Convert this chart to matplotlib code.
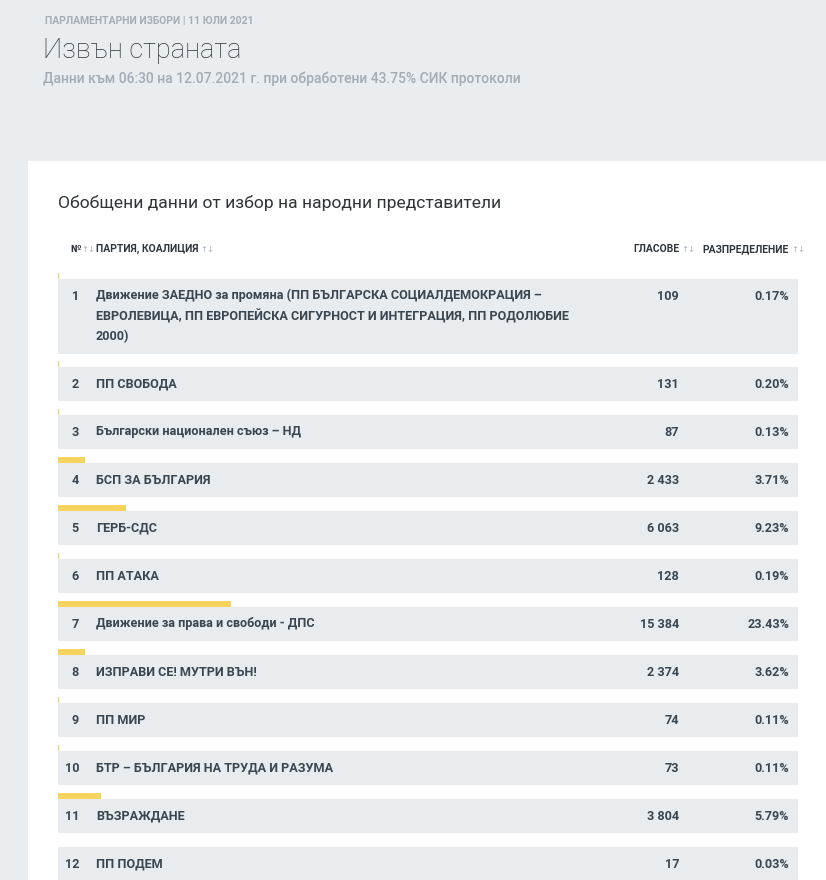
import matplotlib
matplotlib.use("Agg")
import matplotlib.pyplot as plt
from matplotlib.patches import Rectangle

plt.rcParams['font.family'] = ['Roboto', 'DejaVu Sans']

# data
nums = list(range(1, 13))
parties = [
    "Движение ЗАЕДНО за промяна (ПП БЪЛГАРСКА СОЦИАЛДЕМОКРАЦИЯ –\n"
    "ЕВРОЛЕВИЦА, ПП ЕВРОПЕЙСКА СИГУРНОСТ И ИНТЕГРАЦИЯ, ПП РОДОЛЮБИЕ\n2000)",
    "ПП СВОБОДА",
    "Български национален съюз – НД",
    "БСП ЗА БЪЛГАРИЯ",
    "ГЕРБ-СДС",
    "ПП АТАКА",
    "Движение за права и свободи - ДПС",
    "ИЗПРАВИ СЕ! МУТРИ ВЪН!",
    "ПП МИР",
    "БТР – БЪЛГАРИЯ НА ТРУДА И РАЗУМА",
    "ВЪЗРАЖДАНЕ",
    "ПП ПОДЕМ",
]
votes = [109, 131, 87, 2433, 6063, 128, 15384, 2374, 74, 73, 3804, 17]
pcts = [0.17, 0.20, 0.13, 3.71, 9.23, 0.19, 23.43, 3.62, 0.11, 0.11, 5.79, 0.03]

col_headers = ["№", "ПАРТИЯ, КОАЛИЦИЯ", "ГЛАСОВЕ", "РАЗПРЕДЕЛЕНИЕ"]
top_label = "ПАРЛАМЕНТАРНИ ИЗБОРИ | 11 ЮЛИ 2021"
title = "Извън страната"
subtitle = "Данни към 06:30 на 12.07.2021 г. при обработени 43.75% СИК протоколи"
card_title = "Обобщени данни от избор на народни представители"

W, H = 826, 880
BG = "#e9edf0"
ROW_BG = "#e9ecef"
YELLOW = "#f6d35e"
DARK = "#3a4650"
ARROW = "#aab2ba"

fig = plt.figure(figsize=(W / 100, H / 100), dpi=100)
fig.patch.set_facecolor(BG)
ax = fig.add_axes([0, 0, 1, 1])
ax.set_xlim(0, W)
ax.set_ylim(H, 0)
ax.axis("off")

# page header
ax.text(45, 21, top_label, fontsize=7.5, fontweight="bold", color="#a4acb4", va="center")
ax.text(43, 50, title, fontsize=19.5, fontweight="light", color="#2e3439", va="center")
ax.text(43, 79, subtitle, fontsize=10, fontweight="medium", color="#a3abb3", va="center")

# white card
ax.add_patch(Rectangle((28, 161), W - 28, H - 161, facecolor="white", edgecolor="none"))
ax.text(58, 203, card_title, fontsize=12.6, color="#2e3439", va="center")

# column headers
hy = 249
hkw = dict(fontsize=7.5, fontweight="bold", color="#30363c", va="center")
akw = dict(fontsize=6, color=ARROW, va="center", family=['DejaVu Sans'])
ax.text(70, hy, col_headers[0], **hkw)
ax.text(81, hy, "↑↓", **akw)
ax.text(96, hy, col_headers[1], **hkw)
ax.text(200, hy, "↑↓", **akw)
ax.text(679, hy, col_headers[2], ha="right", **hkw)
ax.text(681, hy, "↑↓", **akw)
ax.text(789, hy, col_headers[3], ha="right", **hkw)
ax.text(791, hy, "↑↓", **akw)

# row geometry
x0, x1 = 58, 798
row_w = x1 - x0
tops, heights = [], []
for i in range(len(nums)):
    if i == 0:
        tops.append(279)
        heights.append(75)
    else:
        tops.append(367 + (i - 1) * 48)
        heights.append(34)

# row boxes
for t, h in zip(tops, heights):
    ax.add_patch(Rectangle((x0, t), row_w, h, facecolor=ROW_BG, edgecolor="none"))

# share bars above each row
bar_h = 6
ax.barh([t - bar_h / 2 for t in tops], [p / 100 * row_w for p in pcts],
        left=x0, height=bar_h, color=YELLOW, edgecolor="none")

# row text
for i, (n, name, v, p) in enumerate(zip(nums, parties, votes, pcts)):
    ty = tops[i] + 17
    kw = dict(fontsize=9.1, fontweight="bold", color=DARK)
    ax.text(79, ty, str(n), ha="right", va="center", **kw)
    if "\n" in name:
        ax.text(96, ty - 7, name, ha="left", va="top", linespacing=1.62, **kw)
    else:
        ax.text(96, ty, name, ha="left", va="center", **kw)
    ax.text(679, ty, f"{v:,}".replace(",", " "), ha="right", va="center", **kw)
    ax.text(789, ty, f"{p:.2f}%", ha="right", va="center", **kw)

fig.savefig("out.png", dpi=100, facecolor=BG)
